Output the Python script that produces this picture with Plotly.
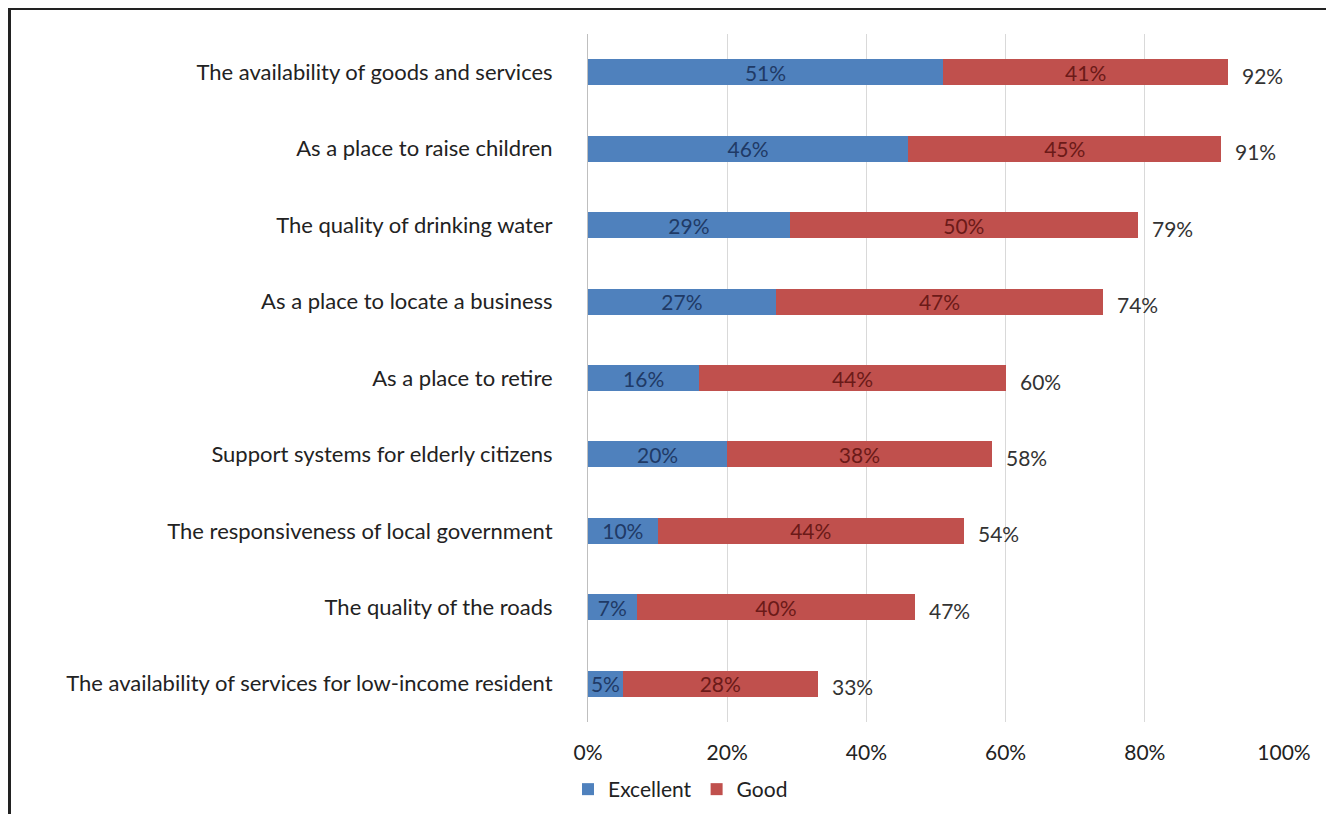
import plotly.graph_objects as go

categories = [
    "The availability of goods and services",
    "As a place to raise children",
    "The quality of drinking water",
    "As a place to locate a business",
    "As a place to retire",
    "Support systems for elderly citizens",
    "The responsiveness of local government",
    "The quality of the roads",
    "The availability of services for low-income resident",
]
excellent = [51, 46, 29, 27, 16, 20, 10, 7, 5]
good = [41, 45, 50, 47, 44, 38, 44, 40, 28]
totals = [e + g for e, g in zip(excellent, good)]
x_ticks = [0, 20, 40, 60, 80, 100]
x_tick_labels = ["0%", "20%", "40%", "60%", "80%", "100%"]

FONT = "Lato"
BLUE = "#4F81BD"
RED = "#C0504D"
FS = 21

fig = go.Figure()
fig.add_trace(go.Bar(
    y=categories, x=excellent, orientation="h", name="Excellent",
    marker=dict(color=BLUE, line=dict(width=0)),
    text=[f"{v}%" for v in excellent], textposition="inside",
    insidetextanchor="middle", constraintext="none",
    textfont=dict(family=FONT, size=FS, color="#1F3A66"),
    width=0.34, hoverinfo="skip",
))
fig.add_trace(go.Bar(
    y=categories, x=good, orientation="h", name="Good",
    marker=dict(color=RED, line=dict(width=0)),
    text=[f"{v}%" for v in good], textposition="inside",
    insidetextanchor="middle", constraintext="none",
    textfont=dict(family=FONT, size=FS, color="#6B1A18"),
    width=0.34, hoverinfo="skip",
))

annotations = [
    dict(x=t, y=c, xref="x", yref="y", text=f"{t}%", showarrow=False,
         xanchor="left", yanchor="middle", xshift=12, yshift=-3,
         font=dict(family=FONT, size=FS, color="#333333"))
    for c, t in zip(categories, totals)
]

# page body has an 8px margin; figure is sized/offset to compensate
W, H = 1318, 806
# plot area: x 580..1276 in figure px (696 wide), y 26..714 (688 tall)
def px_x(X):
    return (X - 580) / 696.0

def px_y(Y):
    return (714 - Y) / 688.0

DARK = "#222222"
shapes = [
    dict(type="rect", xref="paper", yref="paper", x0=px_x(-2), x1=px_x(3),
         y0=px_y(820), y1=px_y(-2), fillcolor=DARK, line=dict(width=0), layer="above"),
    dict(type="rect", xref="paper", yref="paper", x0=px_x(-2), x1=px_x(1330),
         y0=px_y(2), y1=px_y(-2), fillcolor=DARK, line=dict(width=0), layer="above"),
]

fig.update_layout(
    barmode="stack",
    width=W, height=H,
    margin=dict(l=580, r=42, t=26, b=92, autoexpand=False),
    paper_bgcolor="white", plot_bgcolor="white",
    font=dict(family=FONT, size=FS, color="#222222"),
    showlegend=True,
    legend=dict(orientation="h", xref="container", yref="container",
                x=560 / W, y=1 - 761 / H, xanchor="left", yanchor="top",
                font=dict(family=FONT, size=FS, color="#222222"),
                itemwidth=30, tracegroupgap=0, traceorder="normal"),
    xaxis=dict(range=[0, 100], tickvals=x_ticks, ticktext=x_tick_labels,
               showgrid=True, gridcolor="#D9D9D9", gridwidth=1, zeroline=False,
               showline=False, ticks="", ticklabelstandoff=16, automargin=False,
               tickfont=dict(family=FONT, size=FS, color="#222222")),
    yaxis=dict(categoryorder="array", categoryarray=categories[::-1],
               range=[-0.5, 8.5], showgrid=False, zeroline=False,
               showline=True, linecolor="#BFBFBF", linewidth=1,
               ticks="", ticklabelstandoff=30, automargin=False,
               tickfont=dict(family=FONT, size=22, color="#222222")),
    shapes=shapes,
    annotations=annotations,
)

fig.write_html("out.html")
